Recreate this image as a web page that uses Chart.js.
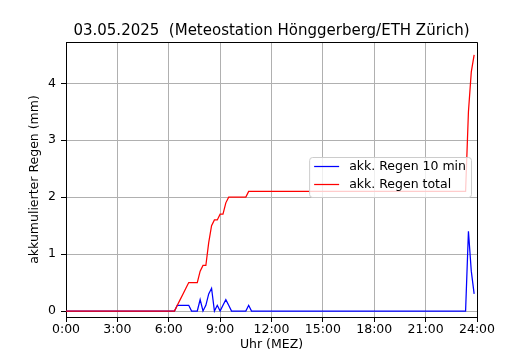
<!DOCTYPE html>
<html><head><meta charset="utf-8">
<script src="https://cdn.jsdelivr.net/npm/chart.js@4/dist/chart.umd.min.js"></script>
<style>html,body{margin:0;padding:0;background:#fff;}canvas{display:block;}</style>
</head><body>
<canvas id="c" width="530" height="350"></canvas>
<script>
const chartTitle = '03.05.2025  (Meteostation Hönggerberg/ETH Zürich)';
const xAxisTitle = 'Uhr (MEZ)';
const yAxisTitle = 'akkumulierter Regen (mm)';
const seriesNames = ['akk. Regen 10 min', 'akk. Regen total'];
const xTickValues = [0, 3, 6, 9, 12, 15, 18, 21, 24];
const xTickLabels = ['0:00', '3:00', '6:00', '9:00', '12:00', '15:00', '18:00', '21:00', '24:00'];
const yTickValues = [0, 1, 2, 3, 4];

// time of each 10-minute sample, in hours (0:00 ... 23:50)
const times = Array.from({length: 144}, (_, i) => i / 6);

const rain10 = [
  0,0,0,0,0,0,0,0,0,0,0,0,
  0,0,0,0,0,0,0,0,0,0,0,0,
  0,0,0,0,0,0,0,0,0,0,0,0,
  0,0,0,0.1,0.1,0.1,0.1,0.1,0,0,0,0.2,
  0,0.1,0.3,0.4,0,0.1,0,0.1,0.2,0.1,0,0,
  0,0,0,0,0.1,0,0,0,0,0,0,0,
  0,0,0,0,0,0,0,0,0,0,0,0,
  0,0,0,0,0,0,0,0,0,0,0,0,
  0,0,0,0,0,0,0,0,0,0,0,0,
  0,0,0,0,0,0,0,0,0,0,0,0,
  0,0,0,0,0,0,0,0,0,0,0,0,
  0,0,0,0,0,0,0,0,0,1.4,0.7,0.3
];
const rainTotal = [
  0,0,0,0,0,0,0,0,0,0,0,0,
  0,0,0,0,0,0,0,0,0,0,0,0,
  0,0,0,0,0,0,0,0,0,0,0,0,
  0,0,0,0.1,0.2,0.3,0.4,0.5,0.5,0.5,0.5,0.7,
  0.8,0.8,1.2,1.5,1.6,1.6,1.7,1.7,1.9,2.0,2.0,2.0,
  2.0,2.0,2.0,2.0,2.1,2.1,2.1,2.1,2.1,2.1,2.1,2.1,
  2.1,2.1,2.1,2.1,2.1,2.1,2.1,2.1,2.1,2.1,2.1,2.1,
  2.1,2.1,2.1,2.1,2.1,2.1,2.1,2.1,2.1,2.1,2.1,2.1,
  2.1,2.1,2.1,2.1,2.1,2.1,2.1,2.1,2.1,2.1,2.1,2.1,
  2.1,2.1,2.1,2.1,2.1,2.1,2.1,2.1,2.1,2.1,2.1,2.1,
  2.1,2.1,2.1,2.1,2.1,2.1,2.1,2.1,2.1,2.1,2.1,2.1,
  2.1,2.1,2.1,2.1,2.1,2.1,2.1,2.1,2.1,3.5,4.2,4.5
];

const FONT = '"DejaVu Sans", "Liberation Sans", sans-serif';

const bgPlugin = {
  id: 'bg',
  beforeDraw(chart) {
    const ctx = chart.ctx;
    ctx.save();
    ctx.fillStyle = '#ffffff';
    ctx.fillRect(0, 0, chart.width, chart.height);
    ctx.restore();
  }
};

const titlePlugin = {
  id: 'mplTitle',
  afterDraw(chart) {
    const ctx = chart.ctx, a = chart.chartArea;
    ctx.save();
    ctx.fillStyle = '#000';
    ctx.font = '15px ' + FONT;
    ctx.textAlign = 'center';
    ctx.textBaseline = 'alphabetic';
    ctx.fillText(chartTitle, (a.left + a.right) / 2, a.top - 7.5);
    ctx.restore();
  }
};

const framePlugin = {
  id: 'frame',
  afterDatasetsDraw(chart) {
    const ctx = chart.ctx, a = chart.chartArea;
    ctx.save();
    ctx.strokeStyle = '#000';
    ctx.lineWidth = 1;
    ctx.beginPath();
    ctx.moveTo(Math.round(a.left) + 0.5, Math.round(a.top) + 0.5);
    ctx.lineTo(Math.round(a.right) + 0.5, Math.round(a.top) + 0.5);
    ctx.lineTo(Math.round(a.right) + 0.5, Math.round(a.bottom) + 0.5);
    ctx.stroke();
    ctx.restore();
  }
};

const legendPlugin = {
  id: 'mplLegend',
  afterDatasetsDraw(chart) {
    const ctx = chart.ctx, a = chart.chartArea;
    ctx.save();
    ctx.font = '12.5px ' + FONT;
    const ds = chart.data.datasets;
    let tw = 0;
    ds.forEach(d => { tw = Math.max(tw, ctx.measureText(d.label).width); });
    const pad = 5, handle = 25, gap = 10, rowH = 18;
    const w = pad + handle + gap + tw + pad;
    const h = 40;
    const right = a.right - 6;
    const left = right - w;
    const top = (a.top + a.bottom) / 2 - 2.5 - h / 2;
    ctx.beginPath();
    if (ctx.roundRect) ctx.roundRect(left + 0.5, top + 0.5, w, h, 3); else ctx.rect(left + 0.5, top + 0.5, w, h);
    ctx.fillStyle = 'rgba(255,255,255,0.8)';
    ctx.fill();
    ctx.strokeStyle = '#cccccc';
    ctx.lineWidth = 1;
    ctx.stroke();
    ds.forEach((d, i) => {
      const y = top + 9.5 + i * rowH;
      ctx.beginPath();
      ctx.strokeStyle = d.borderColor;
      ctx.lineWidth = d.borderWidth;
      ctx.moveTo(left + pad, y);
      ctx.lineTo(left + pad + handle, y);
      ctx.stroke();
      ctx.fillStyle = '#000';
      ctx.textAlign = 'left';
      ctx.textBaseline = 'middle';
      ctx.fillText(d.label, left + pad + handle + gap, y);
    });
    ctx.restore();
  }
};

new Chart(document.getElementById('c').getContext('2d'), {
  type: 'line',
  data: {
    labels: times,
    datasets: [
      { label: seriesNames[0], data: rain10, borderColor: '#0000ff', borderWidth: 1.25, pointRadius: 0, fill: false, tension: 0, order: 2 },
      { label: seriesNames[1], data: rainTotal, borderColor: '#ff0000', borderWidth: 1.25, pointRadius: 0, fill: false, tension: 0, order: 1 }
    ]
  },
  options: {
    responsive: false,
    devicePixelRatio: 1,
    animation: false,
    layout: { padding: { left: 0, right: 53, top: 42, bottom: 0 } },
    plugins: { legend: { display: false }, tooltip: { enabled: false }, title: { display: false } },
    scales: {
      x: {
        type: 'linear', min: 0, max: 24,
        afterBuildTicks: s => { s.ticks = xTickValues.map(v => ({ value: v })); },
        afterFit: s => { s.height = 33; },
        ticks: {
          autoSkip: false, maxRotation: 0, padding: 0, color: '#000',
          font: { family: FONT, size: 12.5, lineHeight: 1.2 },
          callback: (v) => xTickLabels[xTickValues.indexOf(v)]
        },
        grid: { color: '#b0b0b0', lineWidth: 1, tickColor: '#000', tickLength: 5, drawTicks: true },
        border: { display: true, color: '#000', width: 1 },
        title: { display: true, text: xAxisTitle, color: '#000', font: { family: FONT, size: 12.5, lineHeight: 0.8 }, padding: { top: 0, bottom: 0 } }
      },
      y: {
        type: 'linear', min: -0.105, max: 4.725,
        afterBuildTicks: s => { s.ticks = yTickValues.map(v => ({ value: v })); },
        afterFit: s => { s.width = 66; },
        ticks: {
          padding: 5, color: '#000',
          font: { family: FONT, size: 12.5, lineHeight: 1.2 },
          callback: (v) => String(v)
        },
        grid: { color: '#b0b0b0', lineWidth: 1, tickColor: '#000', tickLength: 5, drawTicks: true },
        border: { display: true, color: '#000', width: 1 },
        title: { display: true, text: yAxisTitle, color: '#000', font: { family: FONT, size: 12.5, lineHeight: 1.2 }, padding: { top: 27.5, bottom: 0 } }
      }
    }
  },
  plugins: [bgPlugin, framePlugin, legendPlugin, titlePlugin]
});
</script>
</body></html>
